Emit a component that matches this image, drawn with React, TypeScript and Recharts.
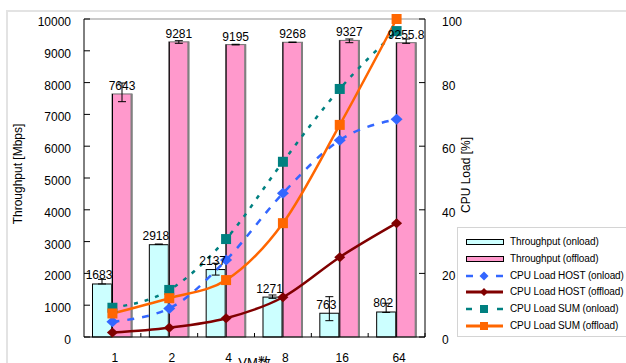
import React from 'react';
import {
  ComposedChart, Bar, Line, XAxis, YAxis, ErrorBar, LabelList, Label, Legend, ReferenceLine,
} from 'recharts';

const categories = ['1', '2', '4', '8', '16', '64'];
const throughputOnload = [1683, 2918, 2137, 1271, 763, 802];
const throughputOffload = [7643, 9281, 9195, 9268, 9327, 9255.8];
const errOnload = [[15, 130], [0, 0], [190, 180], [55, 50], [250, 505], [30, 260]];
const errOffload = [[243, 344], [46, 37], [10, 10], [5, 5], [72, 44], [21, 115]];
const cpuHostOnload = [4.8, 9.0, 24.2, 45.2, 61.9, 68.5];
const cpuHostOffload = [1.4, 2.9, 5.9, 12.5, 25.1, 35.8];
const cpuSumOnload = [9.2, 14.8, 30.8, 55.1, 78.0, 96.2];
const cpuSumOffload = [7.4, 12.2, 17.9, 35.8, 66.7, 100];
const leftTicks = [0, 1000, 2000, 3000, 4000, 5000, 6000, 7000, 8000, 9000, 10000];
const rightTicks = [0, 20, 40, 60, 80, 100];

const seriesNames = [
  'Throughput (onload)',
  'Throughput (offload)',
  'CPU Load HOST (onload)',
  'CPU Load HOST (offload)',
  'CPU Load SUM (onload)',
  'CPU Load SUM (offload)',
];

const data = categories.map((c, i) => ({
  vm: c,
  tOn: throughputOnload[i],
  tOff: throughputOffload[i],
  eOn: errOnload[i],
  eOff: errOffload[i],
  hOn: cpuHostOnload[i],
  hOff: cpuHostOffload[i],
  sOn: cpuSumOnload[i],
  sOff: cpuSumOffload[i],
}));

const FONT = '"Liberation Sans", Arial, "Noto Sans CJK JP", sans-serif';
const C_CYAN = '#CCFFFF';
const C_PINK = '#FF99CC';
const C_BLUE = '#3366FF';
const C_RED = '#800000';
const C_TEAL = '#008080';
const C_ORANGE = '#FF6600';

const diamond = (cx: number, cy: number, w: number, h: number, fill: string) => (
  <path d={`M${cx},${cy - h / 2} L${cx + w / 2},${cy} L${cx},${cy + h / 2} L${cx - w / 2},${cy} Z`} fill={fill} />
);
const square = (cx: number, cy: number, s: number, fill: string) => (
  <rect x={cx - s / 2} y={cy - s / 2} width={s} height={s} fill={fill} />
);

const makeDot = (kind: string, color: string, size: number, h?: number) => (props: any) => {
  const { cx, cy, index } = props;
  if (cx == null || cy == null) return <g key={index} />;
  return (
    <g key={index}>
      {kind === 'diamond' ? diamond(cx, cy, size, h || size, color) : square(cx, cy, size, color)}
    </g>
  );
};

const makeBarLabel = (dx: number) => (props: any) => {
  const vb = props.viewBox || props;
  const x = vb.x ?? props.x;
  const y = vb.y ?? props.y;
  const w = vb.width ?? props.width;
  return (
    <text x={x + w / 2 + dx} y={y - 4} textAnchor="middle" fontSize={12} fontFamily={FONT} fill="#000">
      {props.value}
    </text>
  );
};

const PinkBar = (props: any) => {
  const { x, y, width, height } = props;
  if (!height) return <g />;
  return (
    <g>
      <rect x={x} y={y} width={width} height={height} fill={C_PINK} stroke="#707070" strokeWidth={1} />
      <line x1={x + 0.5} y1={y} x2={x + 0.5} y2={y + height} stroke="#000" strokeWidth={1} />
      <line x1={x + width - 0.5} y1={y} x2={x + width - 0.5} y2={y + height} stroke="#808080" strokeWidth={2} />
    </g>
  );
};

const CyanBar = (props: any) => {
  const { x, y, width, height } = props;
  if (!height) return <g />;
  return <rect x={x + 0.5} y={y + 0.5} width={width - 1} height={height - 0.5} fill={C_CYAN} stroke="#000" strokeWidth={1} />;
};

const XTick = (props: any) => {
  const { x, y, payload } = props;
  const axisY = y - 2;
  const off = payload.offset || 0;
  return (
    <g>
      <line x1={x + off} y1={axisY} x2={x + off} y2={axisY - 4} stroke="#000" strokeWidth={1} />
      <text x={x + 2.5} y={axisY + 25} textAnchor="middle" fontSize={12} fontFamily={FONT} fill="#000">
        {payload.value}
      </text>
    </g>
  );
};

const LeftTick = (props: any) => {
  const { x, y, payload } = props;
  return (
    <text x={x} y={y + 7} textAnchor="end" fontSize={12} fontFamily={FONT} fill="#000">
      {payload.value}
    </text>
  );
};

const RightTick = (props: any) => {
  const { x, y, payload } = props;
  return (
    <text x={x} y={y + 7} textAnchor="start" fontSize={12} fontFamily={FONT} fill="#000">
      {payload.value}
    </text>
  );
};

const LegendContent = () => {
  const rowY = (i: number) => 14 + 16.8 * i;
  const swatch = (i: number) => {
    switch (i) {
      case 0:
        return <rect x={0.5} y={3.5} width={37} height={5} fill={C_CYAN} stroke="#000" />;
      case 1:
        return <rect x={0.5} y={3.5} width={37} height={5} fill={C_PINK} stroke="#000" />;
      case 2:
        return (
          <g>
            <line x1={0} y1={6} x2={7} y2={6} stroke={C_BLUE} strokeWidth={2.5} />
            <line x1={30} y1={6} x2={37} y2={6} stroke={C_BLUE} strokeWidth={2.5} />
            {diamond(18, 6, 9, 9, C_BLUE)}
          </g>
        );
      case 3:
        return (
          <g>
            <line x1={0} y1={6} x2={37} y2={6} stroke={C_RED} strokeWidth={3} />
            {diamond(18, 6, 8, 8, C_RED)}
          </g>
        );
      case 4:
        return (
          <g>
            <line x1={0} y1={6} x2={6} y2={6} stroke={C_TEAL} strokeWidth={2.5} />
            <line x1={31} y1={6} x2={37} y2={6} stroke={C_TEAL} strokeWidth={2.5} />
            {square(18, 6, 8, C_TEAL)}
          </g>
        );
      default:
        return (
          <g>
            <line x1={0} y1={6} x2={37} y2={6} stroke={C_ORANGE} strokeWidth={3} />
            {square(18, 6, 8, C_ORANGE)}
          </g>
        );
    }
  };
  return (
    <div style={{ position: 'relative', width: '100%', height: '100%' }}>
      {seriesNames.map((n, i) => (
        <div key={n} style={{ position: 'absolute', left: 0, top: rowY(i) - 7, height: 14, width: 200 }}>
          <svg width={40} height={12} style={{ position: 'absolute', left: 8, top: 1 }}>
            {swatch(i)}
          </svg>
          <span
            style={{
              position: 'absolute', left: 52, top: 0, fontSize: 10, fontFamily: FONT,
              lineHeight: '14px', whiteSpace: 'nowrap', color: '#000', letterSpacing: '-0.1px',
            }}
          >
            {n}
          </span>
        </div>
      ))}
    </div>
  );
};

const YLabelLeft = (props: any) => {
  const vb = props.viewBox;
  const cx = 17.5;
  const cy = vb.y + vb.height / 2 - 4;
  return (
    <text x={cx} y={cy} transform={`rotate(-90, ${cx}, ${cy})`} textAnchor="middle" dominantBaseline="central"
      fontSize={12} fontFamily={FONT} fill="#000">
      Throughput [Mbps]
    </text>
  );
};

const YLabelRight = (props: any) => {
  const vb = props.viewBox;
  const cx = vb.x + 41;
  const cy = vb.y + vb.height / 2 - 3;
  return (
    <text x={cx} y={cy} transform={`rotate(-90, ${cx}, ${cy})`} textAnchor="middle" dominantBaseline="central"
      fontSize={12} fontFamily={FONT} fill="#000">
      CPU Load [%]
    </text>
  );
};

const XLabel = (props: any) => {
  const vb = props.viewBox;
  return (
    <text x={vb.x + vb.width / 2} y={vb.y + 30} textAnchor="middle" fontSize={13} fontFamily={FONT} fill="#000">
      VM数
    </text>
  );
};

export default function App() {
  return (
    <div style={{ position: 'absolute', left: 0, top: 0, width: 626, height: 363, background: '#fff', overflow: 'hidden' }}>
      <div
        style={{
          position: 'absolute', left: 6, top: 10, width: 700, height: 400,
          border: '2px solid #E3E3E3', boxSizing: 'border-box',
        }}
      />
      <ComposedChart
        width={626}
        height={363}
        data={data}
        margin={{ top: 19, right: 141, bottom: 0, left: 0 }}
        barGap={0}
        barSize={20}
        style={{ position: 'absolute', left: 0, top: 0 }}
      >
        <XAxis
          dataKey="vm"
          height={26}
          axisLine={{ stroke: '#000', strokeWidth: 1 }}
          tickLine={false}
          tickSize={0}
          tickMargin={2}
          interval={0}
          tick={<XTick />}
        >
          <Label content={<XLabel />} />
        </XAxis>
        <YAxis
          yAxisId="left"
          width={84}
          domain={[0, 10000]}
          ticks={leftTicks}
          interval={0}
          axisLine={{ stroke: '#000', strokeWidth: 1 }}
          tickLine={{ stroke: '#000', strokeWidth: 1 }}
          tickSize={-6}
          tickMargin={19}
          tick={<LeftTick />}
        >
          <Label content={<YLabelLeft />} />
        </YAxis>
        <YAxis
          yAxisId="right"
          orientation="right"
          width={60}
          domain={[0, 100]}
          ticks={rightTicks}
          interval={0}
          axisLine={{ stroke: '#000', strokeWidth: 1 }}
          tickLine={{ stroke: '#000', strokeWidth: 1 }}
          tickSize={-6}
          tickMargin={23}
          tick={<RightTick />}
        >
          <Label content={<YLabelRight />} />
        </YAxis>
        <ReferenceLine yAxisId="left" y={10000} stroke="#C8C8C8" strokeWidth={2} />
        <Bar yAxisId="left" dataKey="tOn" name={seriesNames[0]} fill={C_CYAN} shape={<CyanBar />} isAnimationActive={false}>
          <ErrorBar dataKey="eOn" width={4} stroke="#000" strokeWidth={1} direction="y" />
          <LabelList dataKey="tOn" content={makeBarLabel(-3)} />
        </Bar>
        <Bar yAxisId="left" dataKey="tOff" name={seriesNames[1]} fill={C_PINK} shape={<PinkBar />} isAnimationActive={false}>
          <ErrorBar dataKey="eOff" width={4} stroke="#000" strokeWidth={1} direction="y" />
          <LabelList dataKey="tOff" content={makeBarLabel(0)} />
        </Bar>
        <Line yAxisId="right" type="monotone" dataKey="hOn" name={seriesNames[2]} stroke={C_BLUE} strokeWidth={2.5}
          strokeDasharray="7 8" dot={makeDot('diamond', C_BLUE, 12, 11)} activeDot={false} isAnimationActive={false} />
        <Line yAxisId="right" type="monotone" dataKey="hOff" name={seriesNames[3]} stroke={C_RED} strokeWidth={2.5}
          dot={makeDot('diamond', C_RED, 11, 10)} activeDot={false} isAnimationActive={false} />
        <Line yAxisId="right" type="monotone" dataKey="sOn" name={seriesNames[4]} stroke={C_TEAL} strokeWidth={2.5}
          strokeDasharray="4 7" dot={makeDot('square', C_TEAL, 10)} activeDot={false} isAnimationActive={false} />
        <Line yAxisId="right" type="monotone" dataKey="sOff" name={seriesNames[5]} stroke={C_ORANGE} strokeWidth={2.5}
          dot={makeDot('square', C_ORANGE, 10)} activeDot={false} isAnimationActive={false} />
        <Legend
          layout="vertical"
          align="center"
          verticalAlign="middle"
          width={200}
          height={110}
          content={<LegendContent />}
          wrapperStyle={{
            left: 457, top: 227, width: 200, height: 110, border: '1px solid #D4D4D4',
            background: '#fff', boxSizing: 'border-box',
          }}
        />
      </ComposedChart>
    </div>
  );
}
